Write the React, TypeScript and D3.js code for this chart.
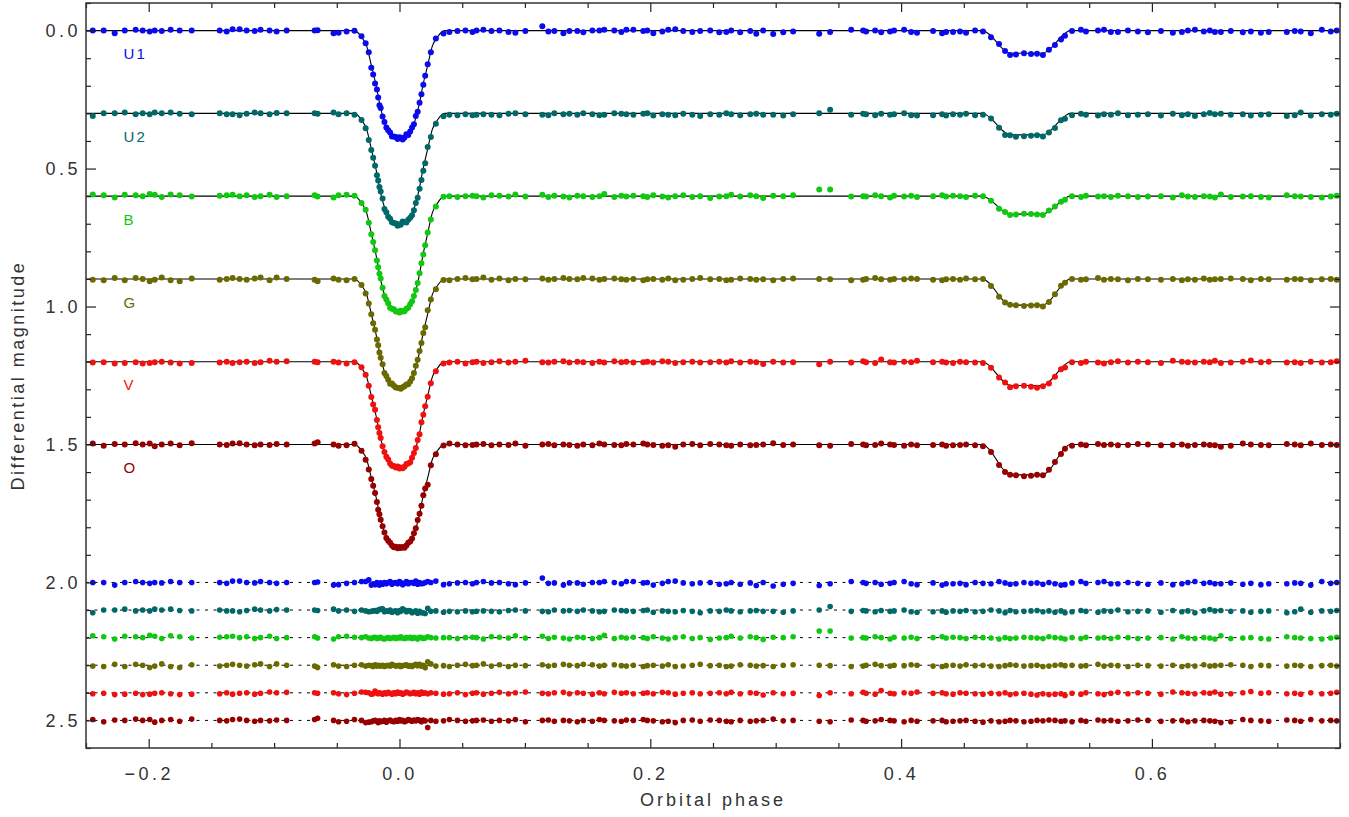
import React, { useEffect, useRef } from 'react'
import * as d3 from 'd3'

// observed phases (shared by all filters)
const phases = [
  -0.2446, -0.2359, -0.2271, -0.2191, -0.2104, -0.2048, -0.1992, -0.1952, -0.1896, -0.1825,
  -0.1753, -0.1657, -0.1434, -0.1378, -0.1331, -0.1275, -0.1219, -0.1155, -0.1108, -0.1036,
  -0.0980, -0.0900, -0.0677, -0.0653, -0.0526, -0.0486, -0.0422, -0.0359, -0.0303, -0.0270,
  -0.0245, -0.0225, -0.0210, -0.0195, -0.0180, -0.0170, -0.0160, -0.0150, -0.0135, -0.0120,
  -0.0105, -0.0090, -0.0075, -0.0060, -0.0045, -0.0030, -0.0015, 0.0000, 0.0010, 0.0025,
  0.0040, 0.0055, 0.0070, 0.0085, 0.0100, 0.0115, 0.0130, 0.0145, 0.0160, 0.0175,
  0.0190, 0.0205, 0.0225, 0.0250, 0.0290, 0.0351, 0.0398, 0.0462, 0.0526, 0.0582,
  0.0614, 0.0669, 0.0733, 0.0797, 0.0869, 0.0924, 0.1004, 0.1139, 0.1187, 0.1235,
  0.1307, 0.1355, 0.1418, 0.1466, 0.1538, 0.1594, 0.1633, 0.1713, 0.1769, 0.1809,
  0.1865, 0.1944, 0.1976, 0.2024, 0.2096, 0.2143, 0.2199, 0.2263, 0.2335, 0.2398,
  0.2478, 0.2550, 0.2606, 0.2645, 0.2717, 0.2797, 0.2845, 0.2900, 0.2980, 0.3060,
  0.3139, 0.3347, 0.3434, 0.3602, 0.3697, 0.3721, 0.3793, 0.3841, 0.3912, 0.3944,
  0.4024, 0.4080, 0.4127, 0.4255, 0.4327, 0.4359, 0.4414, 0.4470, 0.4518, 0.4590,
  0.4653, 0.4717, 0.4781, 0.4829, 0.4869, 0.4916, 0.4980, 0.5036, 0.5084, 0.5131,
  0.5179, 0.5227, 0.5275, 0.5307, 0.5363, 0.5434, 0.5474, 0.5570, 0.5618, 0.5673,
  0.5729, 0.5809, 0.5888, 0.5968, 0.6072, 0.6167, 0.6239, 0.6287, 0.6343, 0.6414,
  0.6462, 0.6502, 0.6550, 0.6629, 0.6725, 0.6789, 0.6869, 0.6932, 0.7076, 0.7139,
  0.7187, 0.7267, 0.7355, 0.7426, 0.7474,
]

// residuals O-C in units of 1.6 mmag, one list per filter
const RES_UNIT = 0.0016
const resU1 = [
  0, 0, 6, 0, -2, 0, 2, 0, 1, -2, 0, 0, 0, 2, -3, -3, 0, 1, -2, 0,
  2, 0, 0, -1, 6, 5, 2, 0, -2, -2, -6, 6, 3, 5, 0, 3, 6, 1, 4, 0,
  3, 0, -2, 4, 1, 0, 3, -2, 0, 5, 2, -2, 3, 0, 0, 2, -3, 4, 0, 3,
  2, 0, -2, 0, -3, 5, 3, 1, 0, 3, 0, -2, 1, 0, 3, 5, 1, -10, 2, 1,
  6, 1, 1, 4, 0, 0, -2, 0, 3, -2, -2, 1, 0, 6, 2, -2, -3, 1, 3, 1,
  0, 4, 3, 0, 4, 1, 7, 0, 8, 4, 2, 7, 3, -2, 0, 2, 0, 4, 2, 0,
  -2, 3, 5, 1, 6, 3, 3, 2, 5, 0, 2, 3, -2, 1, 4, 3, 0, 2, 1, 4,
  0, 3, 6, 5, 1, -2, 2, 0, -2, 3, 3, 0, 2, 4, 1, 5, 3, 0, -2, 2,
  0, 3, 3, 1, 4, 2, 5, 3, 3, 1, 2, 6, -2, 2, 0,
]
const resU2 = [
  6, 0, 0, -2, 2, 0, 2, -2, 0, -2, 1, 2, 0, 2, 2, 4, 1, -2, 0, 2,
  -1, 0, 0, 1, -2, 2, 0, 3, 0, 2, 4, 3, 2, 1, 3, 0, -1, -2, -3, 4,
  2, 3, 0, 5, 3, 2, 6, 1, 3, -3, 0, 4, 1, 2, 6, 4, 2, 7, 3, 6,
  6, 8, -4, 3, 2, 5, 3, 4, 2, 4, 3, 2, 3, 4, 1, 0, 2, 3, 4, 0,
  2, 1, 3, 0, 2, 4, 3, 0, 1, 2, 3, 1, 0, 5, 2, 3, 4, 1, 3, 6,
  2, 3, 0, 2, 4, 2, 1, 3, 3, 5, 2, 0, -8, 3, 1, 2, 4, 1, 3, 2,
  0, 4, 5, 4, 2, 5, 2, 3, 1, 4, 3, 0, 2, 6, 1, 4, 3, 2, 1, 4,
  2, 5, 2, 6, 4, 1, 3, 5, 2, 3, 0, 4, 3, 2, 5, 1, 4, 2, 6, 2,
  -1, 2, 1, 3, 2, 5, 3, 2, 6, 4, -2, 5, 2, 3, 1,
]
const resB = [
  -4, -2, 3, -3, -2, 0, -5, -3, 2, -4, -2, 1, -1, -2, -3, 0, -2, 2, 0, -3,
  2, 0, -2, 1, 3, -2, -3, -1, 0, -2, 1, 2, 0, -1, 2, 1, 0, -1, 2, 3,
  1, 0, 2, 1, -1, 2, 0, 1, -2, 1, 2, 0, 1, -1, 2, 0, 1, 3, -1, 0,
  2, 1, -2, 0, 1, 0, 0, 2, 0, -1, 0, 3, -2, -1, 1, -4, 1, -3, 2, -1,
  1, 3, -1, 0, 2, 0, -5, 2, -1, 1, -1, 0, 2, -2, 1, 3, 0, -2, 2, 0,
  4, 1, 0, -3, 1, -2, 0, 4, -1, 0, -2, -15, -15, 1, 0, 1, -2, 0, 3, -1,
  1, -1, 2, 0, -2, 1, -1, 0, 2, -1, 0, 1, 3, 0, 2, 1, -1, 0, 1, 2,
  -2, 0, 1, 3, 0, 2, -1, 1, 0, 2, -1, 0, 2, 1, 0, 3, -2, 1, 2, 0,
  1, 3, -4, 2, 1, 0, 2, 3, -2, 0, 1, 2, 3, 1, -1,
]
const resG = [
  2, 3, -2, 3, -2, 0, 5, 2, -3, 3, 5, -1, 2, 0, -2, 0, 2, -1, -3, 3,
  -3, 0, 2, 5, -1, 2, 3, 0, -1, 2, 0, 1, 3, -1, 2, 0, 1, 2, 0, 3,
  1, 0, 2, -2, 0, 2, 1, 0, 3, 1, 0, -1, 2, 1, 3, 0, -2, 1, -2, 2,
  0, 6, -8, -3, 2, 1, 3, 0, -2, 1, 0, -3, 2, -1, 3, 0, 1, -1, 2, 0,
  -2, 0, 1, -2, -1, 2, 0, -1, 1, 2, 0, 3, 1, 0, 2, -1, 3, 2, 0, -2,
  1, 0, 3, 2, -1, 0, 2, 1, 3, 0, -1, 0, 1, 3, 2, 0, -2, 1, 2, 0,
  1, -1, 0, 2, 3, 1, 0, 2, -1, 1, 0, 2, 3, 1, -1, 0, 2, 1, 0, 3,
  2, 0, -1, 1, 0, 2, 1, -2, 2, 0, 1, 3, 0, 1, 2, 0, 3, 1, 2, -1,
  2, 1, 0, -1, 0, 3, 0, 1, 2, 0, 1, 3, 1, 0, 2,
]
const resV = [
  2, 1, 4, 3, 1, 4, 3, 1, 0, 2, 4, 3, 2, 0, 3, 1, 0, 3, 1, -2,
  0, -1, 0, 1, 0, 2, 4, 1, -2, -1, 0, 3, 2, -4, 0, 2, 0, 1, 3, 0,
  2, -1, 1, 3, 0, 2, -2, 1, 0, 3, 1, -2, 0, 2, 1, -1, 2, 0, 3, -2,
  1, 0, 2, 0, 1, 3, 2, 0, 4, 1, 0, 3, 1, -1, 2, 0, -2, 1, 2, 0,
  -1, 2, 0, 1, 3, 0, 2, -1, 1, 0, 2, 1, 0, 2, -1, 0, 3, 1, 0, 2,
  1, 0, 2, -1, 2, 0, 1, 5, 0, 2, 1, 6, 0, 2, -1, 1, 3, -5, 1, 2,
  0, 1, -2, 1, 0, 2, 3, 0, 1, 2, 3, 1, 2, 0, 4, 2, 1, 3, 5, 2,
  4, 3, 2, 6, 1, 3, 0, 2, 4, 1, -1, 2, 0, 1, 3, -2, 0, 1, 2, 0,
  1, -2, 3, 2, 0, -3, 1, 0, 2, 1, 3, 0, 2, 1, -1,
]
const resO = [
  -2, 3, -1, 0, -3, 0, -2, 4, 0, -2, 2, -3, 0, 1, -2, -3, 0, 2, 0, 1,
  -1, 0, -2, -5, 0, 3, 2, -2, 0, 5, 4, 3, 1, 0, 2, 5, 1, 3, 2, 0,
  4, 1, -1, 2, 3, 0, 2, -2, 1, 0, 3, 1, -2, 0, 2, -1, 1, -2, 0, 3,
  -1, 1, 16, 0, 2, 1, -2, 0, 2, 1, 0, -1, 2, 0, 1, -2, 3, 0, -1, 2,
  0, 1, 3, 0, 2, -2, 0, 1, 2, -1, 0, -2, 0, 1, 3, 2, 5, 0, -1, 2,
  -1, 0, 2, 3, 0, 2, 1, 0, -3, 1, 0, 2, 3, -1, 0, 2, 1, -2, 0, 1,
  3, 0, 2, 1, 0, 3, 2, 1, 0, 2, 4, 1, 3, 2, 0, 1, 3, 2, 0, 1,
  -1, 0, 2, 1, 3, 0, 2, -1, 1, 0, 2, 1, -1, 0, 2, 1, 0, 3, 1, 0,
  1, 2, 5, 3, -2, 0, 1, 2, -1, 0, 2, -2, 1, 0, 1,
]

// filters, plot offsets and eclipse depths
const bands = ['U1', 'U2', 'B', 'G', 'V', 'O']
const offsets = [0.0, 0.3, 0.6, 0.9, 1.2, 1.5]
const residOffsets = [2.0, 2.1, 2.2, 2.3, 2.4, 2.5]
const primaryDepth = [0.39, 0.40, 0.42, 0.395, 0.385, 0.375]
const secondaryDepth = [0.082, 0.078, 0.065, 0.095, 0.086, 0.11]
const residuals = [resU1, resU2, resB, resG, resV, resO]
const colors = ['#0a0af0', '#006868', '#10c810', '#6a6a00', '#f01010', '#960000']

// normalised eclipse profiles (distance from mid-eclipse -> fraction of depth)
const primaryDphase = [0, 0.004, 0.008, 0.012, 0.016, 0.0183, 0.0223, 0.0263, 0.0303, 0.0335, 0.036]
const primaryShape = [1, 0.985, 0.95, 0.85, 0.67, 0.53, 0.33, 0.14, 0.06, 0.015, 0]
const secondaryDphase = [0, 0.013, 0.016, 0.020, 0.024, 0.028, 0.032, 0.0345]
const secondaryShape = [1, 1, 0.93, 0.75, 0.5, 0.25, 0.07, 0]

const xMajor = [-0.2, 0.0, 0.2, 0.4, 0.6]
const yMajor = [0.0, 0.5, 1.0, 1.5, 2.0, 2.5]

const W = 1349
const H = 817
const frame = { left: 86, right: 1340, top: 3, bottom: 748 }
const FONT = "'Liberation Sans', Arial, sans-serif"

const App = () => {
  const ref = useRef<SVGSVGElement>(null)

  useEffect(() => {
    const svg = d3.select(ref.current)
    svg.selectAll('*').remove()

    const x = d3.scaleLinear().domain([-0.25, 0.75]).range([frame.left, frame.right])
    const y = d3.scaleLinear().domain([-0.1, 2.6]).range([frame.top, frame.bottom])

    const prim = d3.scaleLinear().domain(primaryDphase).range(primaryShape).clamp(true)
    const sec = d3.scaleLinear().domain(secondaryDphase).range(secondaryShape).clamp(true)
    const model = (i: number, p: number) =>
      offsets[i] + primaryDepth[i] * prim(Math.abs(p)) + secondaryDepth[i] * sec(Math.abs(p - 0.5))

    // phases where the model line has knots
    const knots = Array.from(new Set([
      -0.25,
      ...primaryDphase.map(d => -d), ...primaryDphase,
      ...secondaryDphase.map(d => 0.5 - d), ...secondaryDphase.map(d => 0.5 + d),
      0.75,
    ])).sort((a, b) => a - b)

    const clipId = 'plotclip'
    svg.append('defs').append('clipPath').attr('id', clipId)
      .append('rect')
      .attr('x', frame.left).attr('y', frame.top)
      .attr('width', frame.right - frame.left).attr('height', frame.bottom - frame.top)

    const plot = svg.append('g').attr('clip-path', `url(#${clipId})`)

    const line = d3.line<number>().curve(d3.curveMonotoneX)

    bands.forEach((b, i) => {
      // residual zero line
      plot.append('line')
        .attr('x1', frame.left).attr('x2', frame.right)
        .attr('y1', y(residOffsets[i])).attr('y2', y(residOffsets[i]))
        .attr('stroke', '#000').attr('stroke-width', 1)
        .attr('stroke-dasharray', '3 5.5')

      // model light curve
      plot.append('path')
        .attr('d', line.x(p => x(p)).y(p => y(model(i, p)))(knots))
        .attr('fill', 'none').attr('stroke', '#000').attr('stroke-width', 1.1)
    })

    bands.forEach((b, i) => {
      const res = residuals[i]
      const g = plot.append('g').attr('fill', colors[i])
      g.selectAll('circle.obs')
        .data(phases)
        .enter()
        .append('circle')
        .attr('class', 'obs')
        .attr('cx', p => x(p))
        .attr('cy', (p, k) => y(model(i, p) + res[k] * RES_UNIT))
        .attr('r', 3)
      g.selectAll('circle.res')
        .data(phases)
        .enter()
        .append('circle')
        .attr('class', 'res')
        .attr('cx', p => x(p))
        .attr('cy', (p, k) => y(residOffsets[i] + res[k] * RES_UNIT))
        .attr('r', 2.8)

      svg.append('text')
        .attr('x', x(-0.22)).attr('y', y(offsets[i] + 0.104))
        .attr('fill', colors[i])
        .attr('font-family', FONT).attr('font-size', 15)
        .attr('letter-spacing', 2)
        .text(b)
    })

    // axes (ticks point inward)
    const minorX = d3.range(-0.25, 0.7501, 0.05).filter(v => !xMajor.some(m => Math.abs(m - v) < 1e-6))
    const minorY = d3.range(-0.1, 2.6001, 0.1).filter(v => !yMajor.some(m => Math.abs(m - v) < 1e-6))

    const style = (g: d3.Selection<SVGGElement, unknown, null, undefined>) => {
      g.select('.domain').remove()
      g.selectAll('.tick line').attr('stroke', '#222').attr('stroke-width', 1.2)
      g.selectAll('.tick text')
        .attr('fill', '#333')
        .attr('font-family', FONT)
        .attr('font-size', 18)
        .attr('letter-spacing', 3.5)
    }

    const fmt = d3.format('.1f')

    svg.append('g').attr('transform', `translate(0,${frame.bottom})`)
      .call(d3.axisBottom(x).tickValues(xMajor).tickSize(-9).tickPadding(19).tickFormat(d => fmt(d as number)))
      .call(style)
    svg.append('g').attr('transform', `translate(0,${frame.bottom})`)
      .call(d3.axisBottom(x).tickValues(minorX).tickSize(-5).tickFormat(() => ''))
      .call(style)
    svg.append('g').attr('transform', `translate(0,${frame.top})`)
      .call(d3.axisTop(x).tickValues(xMajor).tickSize(-9).tickFormat(() => ''))
      .call(style)
    svg.append('g').attr('transform', `translate(0,${frame.top})`)
      .call(d3.axisTop(x).tickValues(minorX).tickSize(-5).tickFormat(() => ''))
      .call(style)

    svg.append('g').attr('transform', `translate(${frame.left},0)`)
      .call(d3.axisLeft(y).tickValues(yMajor).tickSize(-10).tickPadding(5).tickFormat(d => fmt(d as number)))
      .call(style)
    svg.append('g').attr('transform', `translate(${frame.left},0)`)
      .call(d3.axisLeft(y).tickValues(minorY).tickSize(-5).tickFormat(() => ''))
      .call(style)
    svg.append('g').attr('transform', `translate(${frame.right},0)`)
      .call(d3.axisRight(y).tickValues(yMajor).tickSize(-10).tickFormat(() => ''))
      .call(style)
    svg.append('g').attr('transform', `translate(${frame.right},0)`)
      .call(d3.axisRight(y).tickValues(minorY).tickSize(-5).tickFormat(() => ''))
      .call(style)

    svg.append('rect')
      .attr('x', frame.left).attr('y', frame.top)
      .attr('width', frame.right - frame.left).attr('height', frame.bottom - frame.top)
      .attr('fill', 'none').attr('stroke', '#333').attr('stroke-width', 1.5)

    svg.append('text')
      .attr('x', (frame.left + frame.right) / 2).attr('y', 806)
      .attr('text-anchor', 'middle')
      .attr('fill', '#333').attr('font-family', FONT).attr('font-size', 18)
      .attr('letter-spacing', 3)
      .text('Orbital phase')

    svg.append('text')
      .attr('transform', `translate(24,${(frame.top + frame.bottom) / 2}) rotate(-90)`)
      .attr('text-anchor', 'middle')
      .attr('fill', '#333').attr('font-family', FONT).attr('font-size', 18)
      .attr('letter-spacing', 2.5)
      .text('Differential magnitude')

    return () => { svg.selectAll('*').remove() }
  }, [])

  return (
    <svg ref={ref} width={W} height={H}
      style={{ position: 'absolute', left: 0, top: 0, background: '#fff' }}>
    </svg>
  )
}

export default App
